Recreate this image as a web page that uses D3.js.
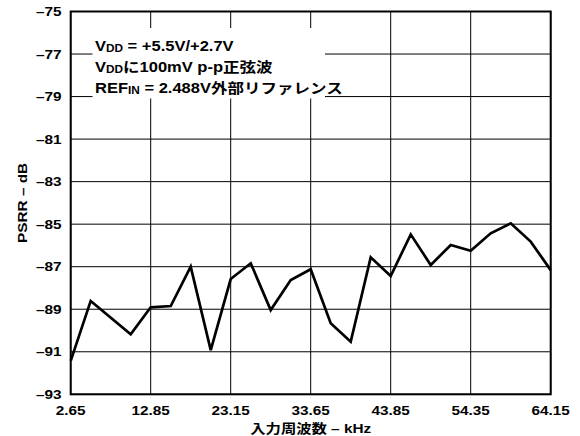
<!DOCTYPE html>
<html>
<head>
<meta charset="utf-8">
<script src="https://cdn.jsdelivr.net/npm/d3@7"></script>
<style>
html,body{margin:0;padding:0;background:#fff;}
text{font-family:"Liberation Sans",Arial,"Noto Sans CJK JP",sans-serif;font-weight:bold;fill:#000;}
</style>
</head>
<body>
<svg id="chart" width="580" height="436"></svg>
<script>
// ---- data ----
const xTickLabels = ["2.65","12.85","23.15","33.65","43.85","54.35","64.15"];
const yTickValues = [-75,-77,-79,-81,-83,-85,-87,-89,-91,-93];
const freqKHz = [2.65,5.2,10.3,12.85,15.43,18.0,20.58,23.15,25.78,28.4,31.03,33.65,36.2,38.75,41.3,43.85,46.48,49.1,51.73,54.35,56.8,59.25,61.7,64.15];
const psrrDB  = [-91.43,-88.61,-90.18,-88.91,-88.85,-87.0,-90.92,-87.58,-86.84,-89.04,-87.63,-87.12,-89.66,-90.53,-86.56,-87.44,-85.48,-86.92,-85.98,-86.25,-85.43,-84.96,-85.82,-87.16];
const legendLines = [
  [["V",false],["DD",true],[" = +5.5V/+2.7V",false]],
  [["V",false],["DD",true],["に100mV p-p正弦波",false]],
  [["REF",false],["IN",true],[" = 2.488V外部リファレンス",false]]
];
const xTitle = "入力周波数 – kHz";
const yTitle = "PSRR – dB";

// ---- layout ----
const L = 70.7, R = 550.7, T = 11.5, B = 394.3;
const SX = 1.18;
const svg = d3.select("#chart");

const xTickNums = xTickLabels.map(Number);
const x = d3.scaleLinear()
  .domain(xTickNums)
  .range(xTickNums.map((d,i)=> L + i*(R-L)/(xTickNums.length-1)));
const y = d3.scaleLinear().domain([-93,-75]).range([B,T]);

function fmtMinus(v){ return String(v).replace("-", "\u2013"); }

// grid
const grid = svg.append("g");
grid.selectAll("line.h").data(yTickValues).join("line")
  .attr("x1",L).attr("x2",R).attr("y1",d=>y(d)).attr("y2",d=>y(d))
  .attr("stroke","#000").attr("stroke-width",1);
grid.selectAll("line.v").data(xTickNums).join("line")
  .attr("y1",T).attr("y2",B).attr("x1",d=>x(d)).attr("x2",d=>x(d))
  .attr("stroke","#000").attr("stroke-width",1);

// legend mask
svg.append("rect").attr("x",92.5).attr("y",28).attr("width",232.5).attr("height",70.5).attr("fill","#fff");

// frame
svg.append("rect").attr("x",L).attr("y",T).attr("width",R-L).attr("height",B-T)
  .attr("fill","none").attr("stroke","#000").attr("stroke-width",2);

// data line
svg.append("path")
  .datum(freqKHz.map((f,i)=>[f,psrrDB[i]]))
  .attr("fill","none").attr("stroke","#000").attr("stroke-width",2.7)
  .attr("stroke-linejoin","miter").attr("stroke-miterlimit",3)
  .attr("d", d3.line().x(d=>x(d[0])).y(d=>y(d[1])));

// text helper
function label(px,py,txt,size,anchor){
  return svg.append("g").attr("transform",`translate(${px},${py}) scale(${SX},1)`)
    .append("text").attr("text-anchor",anchor||"start").attr("font-size",size).text(txt);
}

// y tick labels
yTickValues.forEach(v=>{
  label(61.5, y(v)+4.7, fmtMinus(v), 13, "end");
});
// x tick labels
xTickLabels.forEach(s=>{
  label(x(+s), 414.8, s, 13, "middle");
});
// axis titles
label(310.7, 433, xTitle, 13, "middle");
svg.append("g").attr("transform",`translate(26.5,${(T+B)/2}) rotate(-90) scale(${SX},1)`)
  .append("text").attr("text-anchor","middle").attr("font-size",13).text(yTitle);

// legend
legendLines.forEach((parts,i)=>{
  const t = svg.append("g").attr("transform",`translate(95,${50.7+i*21}) scale(${SX},1)`)
    .append("text").attr("font-size",14);
  parts.forEach(([s,sub])=>{
    const ts = t.append("tspan").text(s);
    if(sub){ ts.attr("font-size",10).attr("dy",1.5); }
    else { ts.attr("dy", t.selectAll("tspan").size()>1 ? -1.5 : 0); }
  });
});
</script>
</body>
</html>
